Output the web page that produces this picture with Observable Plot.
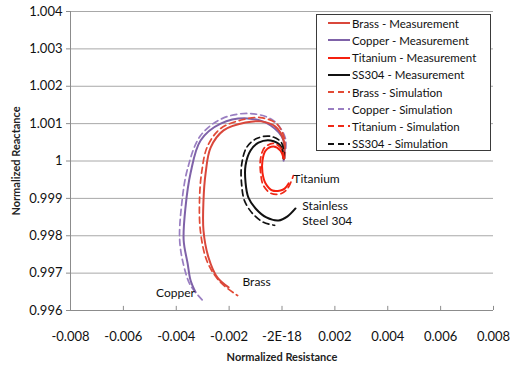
<!DOCTYPE html>
<html>
<head>
<meta charset="utf-8">
<script src="https://cdn.jsdelivr.net/npm/d3@7"></script>
<script src="https://cdn.jsdelivr.net/npm/@observablehq/plot@0.6"></script>
<style>
  html, body { margin: 0; padding: 0; background: #fff; }
  #wrap { position: relative; width: 518px; height: 366px; font-family: Lato, "Open Sans", sans-serif; }
  #wrap svg { font-family: Lato, "Open Sans", sans-serif; }
  #wrap svg [aria-label="x-axis label"] text, #wrap svg [aria-label="y-axis label"] text { font-weight: bold; font-size: 11px; fill: #222; }
  #legend { position: absolute; left: 316px; top: 14px; width: 175px; height: 137px; border: 1px solid #3a3a3a; background: #fff; box-sizing: border-box; }
  .lrow { position: absolute; left: 0; height: 16px; display: flex; align-items: center; font-size: 11.5px; color: #111; white-space: nowrap; }
  .lrow svg { margin-left: 11px; margin-right: 2px; }
</style>
</head>
<body>
<div id="wrap"></div>
<script>
// ---- Tick values and labels ----
const xTicks = [-0.008, -0.006, -0.004, -0.002, 0, 0.002, 0.004, 0.006, 0.008];
const xTickLabels = ["-0.008", "-0.006", "-0.004", "-0.002", "-2E-18", "0.002", "0.004", "0.006", "0.008"];
const yTicks = [0.996, 0.997, 0.998, 0.999, 1.0, 1.001, 1.002, 1.003, 1.004];
const yTickLabels = ["0.996", "0.997", "0.998", "0.999", "1", "1.001", "1.002", "1.003", "1.004"];

// ---- Series data: [normalized resistance, normalized reactance] ----
const brassMeasurement = [
  [0.00006, 1.00007], [0.00006, 1.00055], [-0.00025, 1.00092], [-0.00081, 1.00106],
  [-0.00138, 1.00103], [-0.00221, 1.00082], [-0.0027, 1.00036], [-0.00289, 0.99967],
  [-0.00297, 0.99894], [-0.00297, 0.99814], [-0.00278, 0.99742], [-0.00244, 0.99688],
  [-0.00202, 0.99662]
];
const copperMeasurement = [
  [0.00006, 1.00001], [0.00006, 1.00055], [-0.00043, 1.00095], [-0.0013, 1.00114],
  [-0.00232, 1.001], [-0.00308, 1.00055], [-0.00346, 0.99967], [-0.00365, 0.99876],
  [-0.00372, 0.99788], [-0.00357, 0.99726], [-0.00346, 0.99681], [-0.00327, 0.99649]
];
const titaniumMeasurement = [
  [0.00006, 1.00007], [-0.00006, 1.00028], [-0.00032, 1.00039], [-0.00062, 1.00028],
  [-0.00074, 1.00001], [-0.00074, 0.99969], [-0.00062, 0.9994], [-0.00036, 0.99921],
  [-0.00006, 0.99921], [0.0001, 0.99926], [0.00025, 0.9994]
];
const ss304Measurement = [
  [0.00006, 1.00007], [-0.00006, 1.00041], [-0.00043, 1.00055], [-0.00089, 1.00049],
  [-0.00119, 1.00028], [-0.00138, 0.99988], [-0.00138, 0.99943], [-0.00127, 0.99902],
  [-0.001, 0.99873], [-0.00059, 0.99849], [-0.00013, 0.99841], [0.00021, 0.99852],
  [0.00051, 0.99873]
];
const brassSimulation = [
  [0.00009, 1.00007], [0.00009, 1.0006], [-0.00021, 1.001], [-0.00081, 1.00116],
  [-0.00146, 1.00111], [-0.00232, 1.00087], [-0.00282, 1.00039], [-0.00304, 0.99969],
  [-0.00312, 0.99894], [-0.00308, 0.99809], [-0.00282, 0.99729], [-0.00232, 0.99675],
  [-0.00168, 0.9964]
];
const copperSimulation = [
  [0.00009, 1.00007], [0.00013, 1.0006], [-0.00032, 1.00108], [-0.00119, 1.00127],
  [-0.00225, 1.00114], [-0.00308, 1.00068], [-0.00357, 0.9998], [-0.0038, 0.99881],
  [-0.00387, 0.99788], [-0.00372, 0.99721], [-0.00346, 0.99667], [-0.003, 0.99627]
];
const titaniumSimulation = [
  [0.00009, 1.00007], [-0.00002, 1.00033], [-0.00032, 1.00047], [-0.00066, 1.00036],
  [-0.00081, 1.00007], [-0.00081, 0.99969], [-0.0007, 0.99934], [-0.0004, 0.99913],
  [-0.00002, 0.99913], [0.00021, 0.99926], [0.00043, 0.99961]
];
const ss304Simulation = [
  [0.00009, 1.00007], [-0.00002, 1.00049], [-0.00043, 1.00066], [-0.00096, 1.0006],
  [-0.00134, 1.00036], [-0.00153, 0.99988], [-0.00153, 0.9994], [-0.00142, 0.99894],
  [-0.00112, 0.9986], [-0.0007, 0.99836], [-0.00028, 0.99828]
];

// ---- Series names and colours ----
const seriesNames = [
  "Brass - Measurement", "Copper - Measurement", "Titanium - Measurement", "SS304 - Measurement",
  "Brass - Simulation", "Copper - Simulation", "Titanium - Simulation", "SS304 - Simulation"
];
const seriesData = [
  brassMeasurement, copperMeasurement, titaniumMeasurement, ss304Measurement,
  brassSimulation, copperSimulation, titaniumSimulation, ss304Simulation
];
const seriesColors = ["#d9473b", "#7f62a8", "#f5200f", "#111111", "#e24a35", "#9a7fc2", "#ee2a18", "#111111"];
const seriesDashed = [false, false, false, false, true, true, true, true];

// ---- In-plot annotations ----
const annoText = ["Copper", "Brass", "Titanium", "Stainless", "Steel 304"];
const annoX = [-0.00403, -0.00096, 0.00043, 0.00077, 0.00077];
const annoY = [0.99646, 0.99675, 0.99951, 0.99878, 0.99838];
const annoAnchor = ["middle", "middle", "start", "start", "start"];

const rows = [];
seriesData.forEach((pts, s) => pts.forEach(([x, y], i) => rows.push({ s, i, x, y })));
const annos = annoText.map((t, i) => ({ t, x: annoX[i], y: annoY[i], a: annoAnchor[i] }));

const drawOrder = [5, 1, 4, 0, 7, 3, 6, 2];
const lineMarks = drawOrder.map(s => Plot.line(rows.filter(r => r.s === s), {
  x: "x", y: "y",
  stroke: seriesColors[s],
  strokeWidth: seriesDashed[s] ? 1.7 : 2,
  strokeDasharray: seriesDashed[s] ? "6,4" : null,
  curve: "catmull-rom"
}));

const chart = Plot.plot({
  width: 518,
  height: 366,
  marginLeft: 70,
  marginRight: 25,
  marginTop: 11,
  marginBottom: 56,
  x: { domain: [-0.008, 0.008] },
  y: { domain: [0.996, 1.004] },
  style: { fontSize: "13px", color: "#111" },
  marks: [
    Plot.gridY(yTicks, { stroke: "#a8a8a8", strokeOpacity: 1 }),
    Plot.ruleX([xTicks[0]], { stroke: "#8c8c8c" }),
    Plot.ruleY([yTicks[0]], { stroke: "#8c8c8c" }),
    Plot.ruleX(xTicks, { x: d => d, y1: yTicks[0], y2: yTicks[0] + 0.00011, stroke: "#8c8c8c" }),
    Plot.axisY(yTicks, {
      tickFormat: (d, i) => yTickLabels[i], tickSize: 4, tickPadding: 4, stroke: "#8c8c8c",
      label: "Normalized Reactance", labelAnchor: "center", labelArrow: "none", labelOffset: 58
    }),
    Plot.axisX(xTicks, {
      tickFormat: (d, i) => xTickLabels[i], tickSize: 0, tickPadding: 21,
      label: "Normalized Resistance", labelAnchor: "center", labelArrow: "none", labelOffset: 50
    }),
    ...lineMarks,
    Plot.text(annos.filter(d => d.a === "middle"), { x: "x", y: "y", text: "t", textAnchor: "middle", fontSize: 12, fill: "#111" }),
    Plot.text(annos.filter(d => d.a === "start"), { x: "x", y: "y", text: "t", textAnchor: "start", fontSize: 12, fill: "#111" })
  ]
});

const wrap = document.getElementById("wrap");
wrap.appendChild(chart);

// ---- Legend ----
const legend = document.createElement("div");
legend.id = "legend";
const rowY = [23.3, 40.4, 57.6, 74.8, 92, 109.2, 126.4, 143.6];
seriesNames.forEach((name, s) => {
  const r = document.createElement("div");
  r.className = "lrow";
  r.style.top = (rowY[s] - 14 - 1 - 8) + "px";
  const dash = seriesDashed[s] ? ' stroke-dasharray="6,4"' : '';
  r.innerHTML = `<svg width="22" height="6"><line x1="0" y1="3" x2="22" y2="3" stroke="${seriesColors[s]}" stroke-width="2"${dash}/></svg><span>${name}</span>`;
  legend.appendChild(r);
});
wrap.appendChild(legend);
</script>
</body>
</html>
